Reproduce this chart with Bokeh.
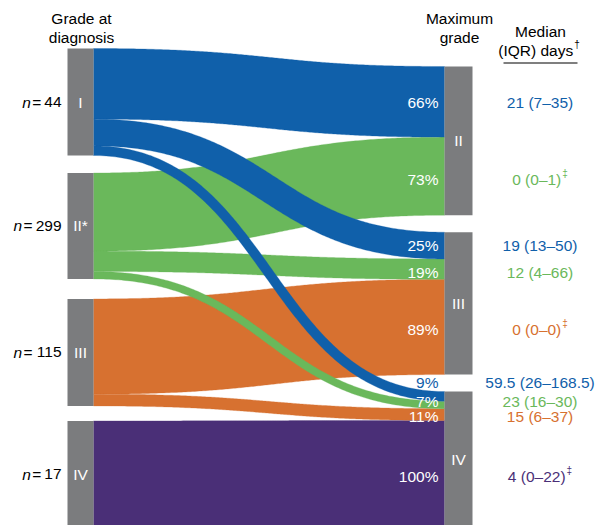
import numpy as np
from bokeh.plotting import figure
from bokeh.models import Range1d
from bokeh.core.properties import value
from bokeh.embed import file_html
from bokeh.resources import INLINE

# ---- data -------------------------------------------------------------
grades = ["I", "II", "III", "IV"]
left_labels = ["I", "II*", "III", "IV"]
right_grades = ["II", "III", "IV"]
n_patients = [44, 299, 115, 17]
grade_colors = ["#1060AA", "#6AB85B", "#D77130", "#4A2F77"]

flow_source = ["I", "I", "I", "II", "II", "II", "III", "III", "IV"]
flow_target = ["II", "III", "IV", "II", "III", "IV", "III", "IV", "IV"]
flow_pct = [66, 25, 9, 73, 19, 7, 89, 11, 100]
median_days = ["21", "19", "59.5", "0", "12", "23", "0", "15", "4"]
iqr_days = ["7–35", "13–50", "26–168.5", "0–1", "4–66", "16–30", "0–0", "6–37", "0–22"]
footnote = ["", "", "", "‡", "", "", "‡", "", "‡"]

# ---- layout -----------------------------------------------------------
W, H = 600, 525
FONT = value("Liberation Sans")
FS = "15.5px"
K = 1.07                      # pixels per percent
LX0, LX1 = 67, 93             # left node column
RX0, RX1 = 444, 472           # right node column
LEFT_TOP, LEFT_GAPS = 48, [17.5, 20, 15]
RIGHT_TOP, RIGHT_GAPS = 66, [17, 17]
NODE_GREY = "#7B7C7E"
LABEL_SHIFT = {("I", "II"): 0.5, ("I", "III"): 0, ("I", "IV"): -14,
               ("II", "IV"): -3.5, ("III", "IV"): 2}

ARIAL = {c: 0.556 for c in "0123456789–"}
ARIAL.update({" ": 0.278, "(": 0.333, ")": 0.333, ".": 0.278, "=": 0.584,
              "I": 0.278, "Q": 0.778, "R": 0.722, "d": 0.556, "a": 0.556,
              "y": 0.5, "s": 0.5, "‡": 0.556, "†": 0.556})


def text_width(s, size=15.5):
    return sum(ARIAL.get(c, 0.556) for c in s) * size


# node extents
left_h = {g: sum(p for s, p in zip(flow_source, flow_pct) if s == g) * K for g in grades}
right_h = {g: sum(p for t, p in zip(flow_target, flow_pct) if t == g) * K for g in right_grades}
left_top, y = {}, LEFT_TOP
for i, g in enumerate(grades):
    left_top[g] = y
    y += left_h[g] + (LEFT_GAPS[i] if i < len(LEFT_GAPS) else 0)
right_top, y = {}, RIGHT_TOP
for i, g in enumerate(right_grades):
    right_top[g] = y
    y += right_h[g] + (RIGHT_GAPS[i] if i < len(RIGHT_GAPS) else 0)

# flow end positions (stacked in source order on both sides)
lcur = dict(left_top)
rcur = dict(right_top)
flows = []
for s, t, pct in zip(flow_source, flow_target, flow_pct):
    w = pct * K
    y0 = lcur[s] + w / 2
    lcur[s] += w
    flows.append([s, t, pct, w, y0])
for src in grades:
    for f in flows:
        if f[0] == src:
            f.append(rcur[f[1]] + f[3] / 2)
            rcur[f[1]] += f[3]


def ribbon(x0, x1, yc0, yc1, w, n=160):
    """Band of constant thickness along a horizontal-ended cubic Bezier."""
    t = np.linspace(0, 1, n)
    xm = (x0 + x1) / 2
    bx = (1 - t) ** 3 * x0 + 3 * (1 - t) ** 2 * t * xm + 3 * (1 - t) * t ** 2 * xm + t ** 3 * x1
    by = ((1 - t) ** 3 + 3 * (1 - t) ** 2 * t) * yc0 + (3 * (1 - t) * t ** 2 + t ** 3) * yc1
    dx = 3 * (1 - t) ** 2 * (xm - x0) + 3 * t ** 2 * (x1 - xm)
    dy = 6 * (1 - t) * t * (yc1 - yc0)
    nrm = np.hypot(dx, dy)
    nx, ny = -dy / nrm, dx / nrm
    ax, ay = bx + nx * w / 2, by + ny * w / 2
    cx, cy = bx - nx * w / 2, by - ny * w / 2
    return list(np.r_[ax, cx[::-1]]), list(np.r_[ay, cy[::-1]])


p = figure(width=W, height=H, output_backend="svg", toolbar_location=None,
           x_range=Range1d(0, W), y_range=Range1d(H, 0), min_border=0,
           background_fill_color="white", border_fill_color="white")
p.axis.visible = False
p.grid.visible = False
p.outline_line_color = None

# ribbons, drawn so that grade I sits on top
for src in reversed(grades):
    color = grade_colors[grades.index(src)]
    xs, ys = [], []
    for f in flows:
        if f[0] == src:
            fx, fy = ribbon(LX1, RX0, f[4], f[5], f[3])
            xs.append(fx)
            ys.append(fy)
    p.patches(xs, ys, fill_color=color, line_color=color, line_width=0.3)

# nodes
p.quad(left=[LX0] * 4, right=[LX1] * 4, top=[left_top[g] for g in grades],
       bottom=[left_top[g] + left_h[g] for g in grades], fill_color=NODE_GREY, line_color=None)
p.quad(left=[RX0] * 3, right=[RX1] * 3, top=[right_top[g] for g in right_grades],
       bottom=[right_top[g] + right_h[g] for g in right_grades], fill_color=NODE_GREY, line_color=None)

txt = dict(text_font=FONT, text_font_size=FS, text_baseline="middle")
p.text(x=[(LX0 + LX1) / 2] * 4, y=[left_top[g] + left_h[g] / 2 for g in grades],
       text=left_labels, text_color="white", text_align="center", **txt)
p.text(x=[(RX0 + RX1) / 2] * 3, y=[right_top[g] + right_h[g] / 2 for g in right_grades],
       text=right_grades, text_color="white", text_align="center", **txt)

# n = ... labels
NX = 61
for g, n in zip(grades, n_patients):
    yc = left_top[g] + left_h[g] / 2
    num = str(n)
    nw = text_width(num)
    p.text(x=[NX], y=[yc], text=[num], text_color="black", text_align="right", **txt)
    p.text(x=[NX - nw - 7.5], y=[yc], text=["="], text_color="black", text_align="center", **txt)
    p.text(x=[NX - nw - 13.5], y=[yc], text=["n"], text_color="black", text_align="right",
           text_font_style="italic", **txt)

# percentage and median (IQR) labels
for f, med, iqr, mark in zip(flows, median_days, iqr_days, footnote):
    s, t, pct, w, y0, y1 = f
    ly = y1 + LABEL_SHIFT.get((s, t), 3)
    col = grade_colors[grades.index(s)]
    pcol = col if (s, t) == ("I", "IV") else "white"
    p.text(x=[RX0 - 6], y=[ly], text=[f"{pct}%"], text_color=pcol, text_align="right", **txt)
    main = f"{med} ({iqr})"
    tw = text_width(main) + (text_width(mark, 10) + 1 if mark else 0)
    x0 = 539.5 - tw / 2
    p.text(x=[x0], y=[ly], text=[main], text_color=col, text_align="left", **txt)
    if mark:
        p.text(x=[x0 + text_width(main) + 1], y=[ly - 6], text=[mark], text_color=col,
               text_align="left", text_font=FONT, text_font_size="10px", text_baseline="middle")

# column headers
p.text(x=[81, 81], y=[17.5, 36.5], text=["Grade at", "diagnosis"], text_color="black",
       text_align="center", **txt)
p.text(x=[459, 459], y=[17.5, 37], text=["Maximum", "grade"], text_color="black",
       text_align="center", **txt)
p.text(x=[540], y=[31], text=["Median"], text_color="black", text_align="center", **txt)
hdr = "(IQR) days"
hw = text_width(hdr) + text_width("†", 10) + 1
hx = 538.5 - hw / 2
p.text(x=[hx], y=[49.5], text=[hdr], text_color="black", text_align="left", **txt)
p.text(x=[hx + text_width(hdr) + 1], y=[43.5], text=["†"], text_color="black",
       text_align="left", text_font=FONT, text_font_size="10px", text_baseline="middle")
p.segment(x0=[503], y0=[62.5], x1=[577], y1=[62.5], line_color="black", line_width=1.2)

open("out.html", "w").write(file_html(p, INLINE))
